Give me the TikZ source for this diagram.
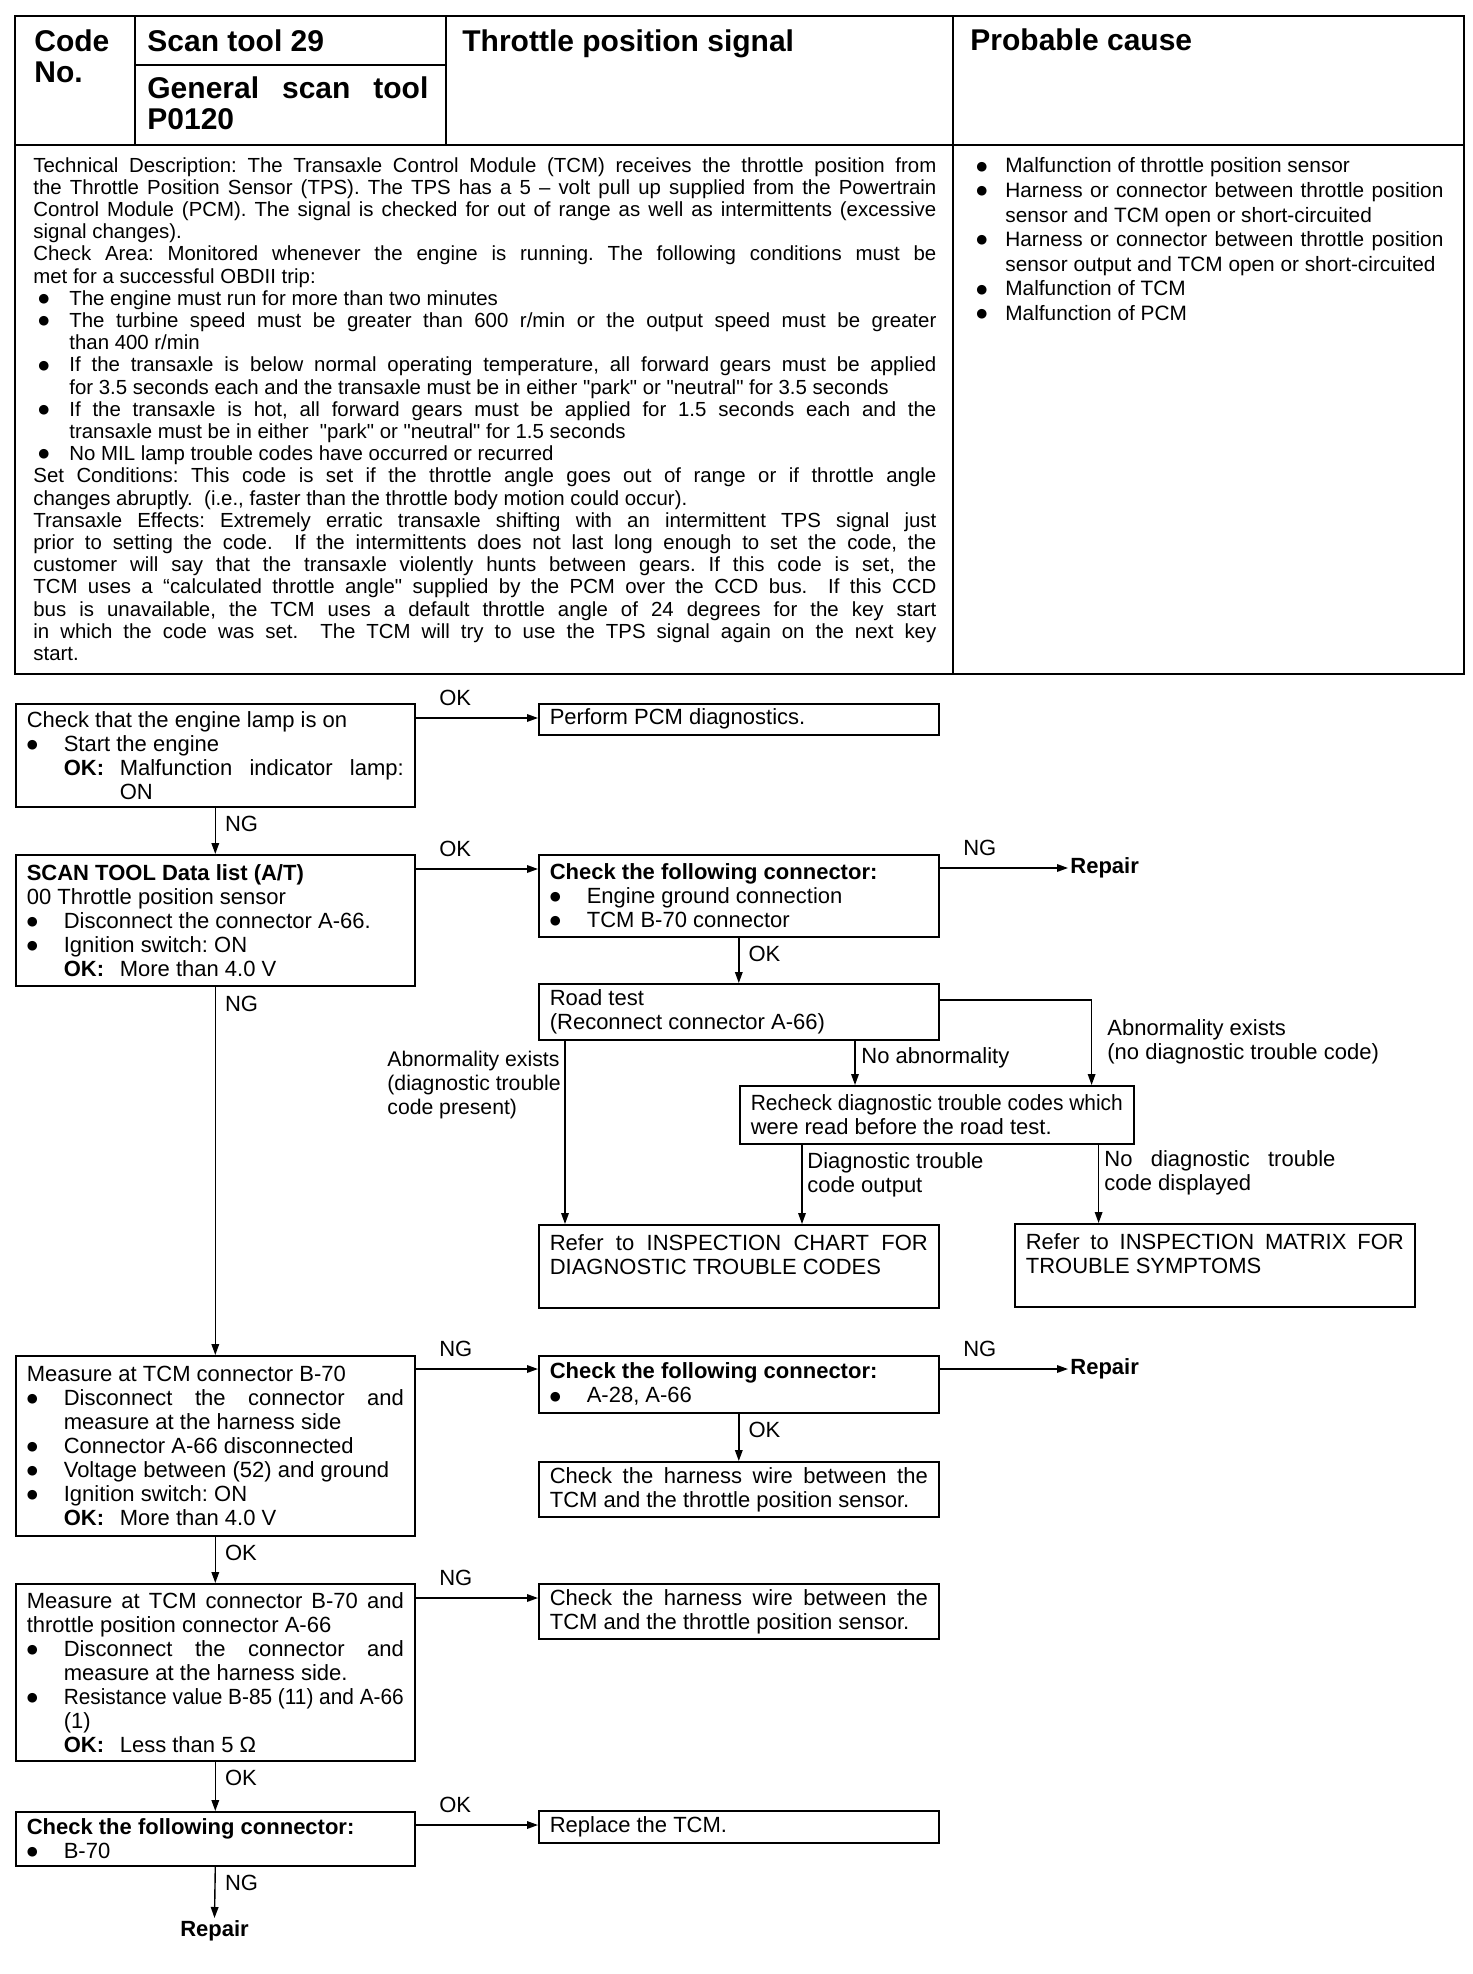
\documentclass[tikz,border=0pt]{standalone}
\usepackage{fontspec}
\setmainfont{Liberation Sans}
\newfontfamily\dejavu{DejaVu Sans}
\usepackage{graphicx}
\usetikzlibrary{arrows.meta}
\frenchspacing
\newcommand\fc{\fontsize{11}{12}\selectfont}
\newcommand\fd{\fontsize{10.2}{11.1}\selectfont}
\newcommand\fp{\fontsize{10.4}{12.3}\selectfont}
\newcommand\fh{\fontsize{15}{15.8}\selectfont\bfseries}
\newcommand\bdot{\raisebox{1.4pt}{\dejavu\fontsize{6.3}{6.3}\selectfont ●}}
\newcommand\qq{\textquotedbl}
\newcommand\bul[2]{\par\hangindent=#1\hangafter=1\noindent\makebox[#1][l]{\bdot}#2}
\newcommand\dbul[1]{\par\hangindent=18pt\hangafter=1\noindent\makebox[18pt][l]{\hspace{2.5pt}\bdot}#1}
\newcommand\okl[1]{\par\hangindent=46.5pt\hangafter=1\noindent\hspace*{18.5pt}\makebox[28pt][l]{\bfseries OK:}#1}
\newcommand\sq[2]{\resizebox{#1}{\height}{#2}}
\tikzset{
  box/.style={draw, line width=0.8pt, anchor=north west, inner xsep=5.5pt, inner ysep=0pt, align=justify, font=\fc},
  lbox/.style={box, minimum width=199.5pt, text width=188.5pt},
  rbox/.style={box, minimum width=200pt, text width=189pt},
  tbl/.style={line width=1pt},
  arr/.style={line width=0.7pt, -{Triangle[length=5.5pt,width=3.8pt]}},
  hl/.style={pos=0, anchor=west, inner sep=0pt, xshift=11.5pt, yshift=10pt, font=\fc},
  vl/.style={pos=0, anchor=west, inner sep=0pt, xshift=4.5pt, yshift=-8pt, font=\fc},
  lab/.style={anchor=north west, inner sep=0pt, align=left, font=\fc},
  rep/.style={inner sep=1pt, font=\fc\bfseries},
  hd/.style={anchor=north west, inner sep=0pt, align=left, font=\fh}
}
\begin{document}
\begin{tikzpicture}[x=0.5pt, y=-0.5pt]
\useasboundingbox (0,0) rectangle (1472,1974);
\fill[white] (0,0) rectangle (1472,1974);

% header table
\draw[tbl] (15,16) rectangle (1464,674);
\draw[tbl] (15,145) -- (1464,145);
\draw[tbl] (135,16) -- (135,145);
\draw[tbl] (446,16) -- (446,145);
\draw[tbl] (953,16) -- (953,674);
\draw[tbl] (135,65) -- (446,65);

\node[hd] (code) at (34,29) {Code\\No.};
\node[hd] (scan) at (147,29) {Scan tool 29};
\node[hd, text width=140.5pt, align=justify] (gen) at (147,76) {General scan tool\linebreak P0120};
\node[hd] (title) at (462,29) {Throttle position signal};
\node[hd] (pc) at (970,28) {Probable cause};

\node[anchor=north west, inner sep=0pt, text width=451.5pt, align=justify, font=\fd] (desc) at (33,157) {%
Technical Description: The Transaxle Control Module (TCM) receives the throttle position from\linebreak
the Throttle Position Sensor (TPS). The TPS has a 5 – volt pull up supplied from the Powertrain\linebreak
Control Module (PCM). The signal is checked for out of range as well as intermittents (excessive\linebreak
signal changes).\par
Check Area: Monitored whenever the engine is running. The following conditions must be\linebreak
met for a successful OBDII trip:
\dbul{The engine must run for more than two minutes}
\dbul{The turbine speed must be greater than 600 r/min or the output speed must be greater\linebreak than 400 r/min}
\dbul{If the transaxle is below normal operating temperature, all forward gears must be applied\linebreak for 3.5 seconds each and the transaxle must be in either \qq park\qq{} or \qq neutral\qq{} for 3.5 seconds}
\dbul{If the transaxle is hot, all forward gears must be applied for 1.5 seconds each and the\linebreak transaxle must be in either \ \qq park\qq{} or \qq neutral\qq{} for 1.5 seconds}
\dbul{No MIL lamp trouble codes have occurred or recurred}
\par\noindent Set Conditions: This code is set if the throttle angle goes out of range or if throttle angle\linebreak
changes abruptly. \ (i.e., faster than the throttle body motion could occur).\par
Transaxle Effects: Extremely erratic transaxle shifting with an intermittent TPS signal just\linebreak
prior to setting the code. \ If the intermittents does not last long enough to set the code, the\linebreak
customer will say that the transaxle violently hunts between gears. If this code is set, the\linebreak
TCM uses a “calculated throttle angle\qq{} supplied by the PCM over the CCD bus. \ If this CCD\linebreak
bus is unavailable, the TCM uses a default throttle angle of 24 degrees for the key start\linebreak
in which the code was set. \ The TCM will try to use the TPS signal again on the next key\linebreak
start.\par};

\node[anchor=north west, inner sep=0pt, text width=233.5pt, align=justify, font=\fp] (cause) at (976,148) {%
\bul{14.5pt}{Malfunction of throttle position sensor}%
\bul{14.5pt}{Harness or connector between throttle position\linebreak sensor and TCM open or short-circuited}%
\bul{14.5pt}{Harness or connector between throttle position\linebreak sensor output and TCM open or short-circuited}%
\bul{14.5pt}{Malfunction of TCM}%
\bul{14.5pt}{Malfunction of PCM}\par};

% flowchart boxes
\node[lbox, minimum height=51.5pt] (A) at (15,703) {Check that the engine lamp is on\bul{18.5pt}{Start the engine}\okl{Malfunction indicator lamp:\linebreak ON}\par};
\node[rbox, minimum height=15.5pt] (B) at (538,703) {Perform PCM diagnostics.};
\node[lbox, minimum height=65.5pt] (C) at (15,854) {\textbf{SCAN TOOL Data list (A/T)}\par 00 Throttle position sensor\bul{18.5pt}{Disconnect the connector A-66.}\bul{18.5pt}{Ignition switch: ON}\okl{More than 4.0 V}\par};
\node[rbox, minimum height=41pt] (D) at (538,854) {\textbf{Check the following connector:}\bul{18.5pt}{Engine ground connection}\bul{18.5pt}{TCM B-70 connector}\par};
\node[rep, anchor=west] (R1) at (1068,868) {Repair};
\node[rbox, minimum height=28pt] (E) at (538,983) {Road test\par(Reconnect connector A-66)};
\node[box, minimum width=197pt, text width=186pt, minimum height=29pt] (G) at (739,1085) {\sq{186pt}{Recheck diagnostic trouble codes which}\par were read before the road test.};
\node[rbox, minimum height=41.5pt] (F) at (538,1224) {Refer to INSPECTION CHART FOR\linebreak DIAGNOSTIC TROUBLE CODES\par\mbox{}};
\node[rbox, minimum height=41.5pt] (H) at (1014,1223) {Refer to INSPECTION MATRIX FOR\linebreak TROUBLE SYMPTOMS\par\mbox{}};
\node[lbox, minimum height=90pt] (I) at (15,1355) {Measure at TCM connector B-70\bul{18.5pt}{Disconnect the connector and\linebreak measure at the harness side}\bul{18.5pt}{Connector A-66 disconnected}\bul{18.5pt}{Voltage between (52) and ground}\bul{18.5pt}{Ignition switch: ON}\okl{More than 4.0 V}\par};
\node[rbox, minimum height=28.5pt] (J) at (538,1355) {\textbf{Check the following connector:}\bul{18.5pt}{A-28, A-66}\par};
\node[rep, anchor=west] (R2) at (1068,1369) {Repair};
\node[rbox, minimum height=27.5pt] (K) at (538,1461) {Check the harness wire between the\linebreak TCM and the throttle position sensor.};
\node[lbox, minimum height=88.5pt] (L) at (15,1583) {Measure at TCM connector B-70 and\linebreak throttle position connector A-66\bul{18.5pt}{Disconnect the connector and\linebreak measure at the harness side.}\bul{18.5pt}{\sq{170pt}{Resistance value B-85 (11) and A-66}\newline(1)}\okl{Less than 5 Ω}\par};
\node[rbox, minimum height=27.5pt] (M) at (538,1583) {Check the harness wire between the\linebreak TCM and the throttle position sensor.};
\node[lbox, minimum height=27pt] (N) at (15,1811) {\textbf{Check the following connector:}\bul{18.5pt}{B-70}\par};
\node[rbox, minimum height=16pt] (O) at (538,1810) {Replace the TCM.};
\node[rep, anchor=north] (R3) at (214.5,1918) {Repair};

% branch labels
\node[lab, font=\fontsize{10.6}{12}\selectfont] (lb1) at (387,1051) {Abnormality exists\\(diagnostic trouble\\code present)};
\node[lab] (lb2) at (1107,1019) {Abnormality exists\\(no diagnostic trouble code)};
\node[lab] (lb3) at (861,1047) {No abnormality};
\node[lab] (lb4) at (807,1152) {Diagnostic trouble\\code output};
\node[lab] (lb5) at (1104,1150) {\makebox[115.5pt][s]{No diagnostic trouble}\\code displayed};

% connectors
\coordinate (a1) at ([yshift=-7.5pt]A.north east);
\draw[arr] (a1) -- node[hl]{OK} (a1 -| B.west);
\draw[arr] (A.south) -- node[vl]{NG} (C.north);
\coordinate (c1) at ([yshift=-7.5pt]C.north east);
\draw[arr] (c1) -- node[hl]{OK} (c1 -| D.west);
\coordinate (d1) at ([yshift=-7pt]D.north east);
\draw[arr] (d1) -- node[hl]{NG} (d1 -| R1.west);
\draw[arr] (D.south) -- node[vl]{OK} (E.north);
\coordinate (e1) at ([xshift=13.5pt]E.south west);
\draw[arr] (e1) -- (e1 |- F.north);
\coordinate (e2) at ([xshift=158.5pt]E.south west);
\draw[arr] (e2) -- (e2 |- G.north);
\coordinate (e3) at ([yshift=-8.5pt]E.north east);
\coordinate (g1) at ([xshift=-21.5pt]G.north east);
\draw[arr] (e3) -| (g1);
\coordinate (g3) at ([xshift=31.5pt]G.south west);
\draw[arr] (g3) -- (g3 |- F.north);
\coordinate (g4) at ([xshift=-18pt]G.south east);
\draw[arr] (g4) -- (g4 |- H.north);
\draw[arr] (C.south) -- node[vl, yshift=-0.5pt]{NG} (I.north);
\coordinate (i1) at ([yshift=-7pt]I.north east);
\draw[arr] (i1) -- node[hl]{NG} (i1 -| J.west);
\coordinate (j1) at ([yshift=-7pt]J.north east);
\draw[arr] (j1) -- node[hl]{NG} (j1 -| R2.west);
\draw[arr] (J.south) -- node[vl]{OK} (K.north);
\draw[arr] (I.south) -- node[vl]{OK} (L.north);
\coordinate (l1) at ([yshift=-7.5pt]L.north east);
\draw[arr] (l1) -- node[hl]{NG} (l1 -| M.west);
\draw[arr] (L.south) -- node[vl]{OK} (N.north);
\coordinate (n1) at ([yshift=-7pt]N.north east);
\draw[arr] (n1) -- node[hl]{OK} (n1 -| O.west);
\draw[arr] (N.south) -- node[vl]{NG} (R3.north);
\end{tikzpicture}
\end{document}
